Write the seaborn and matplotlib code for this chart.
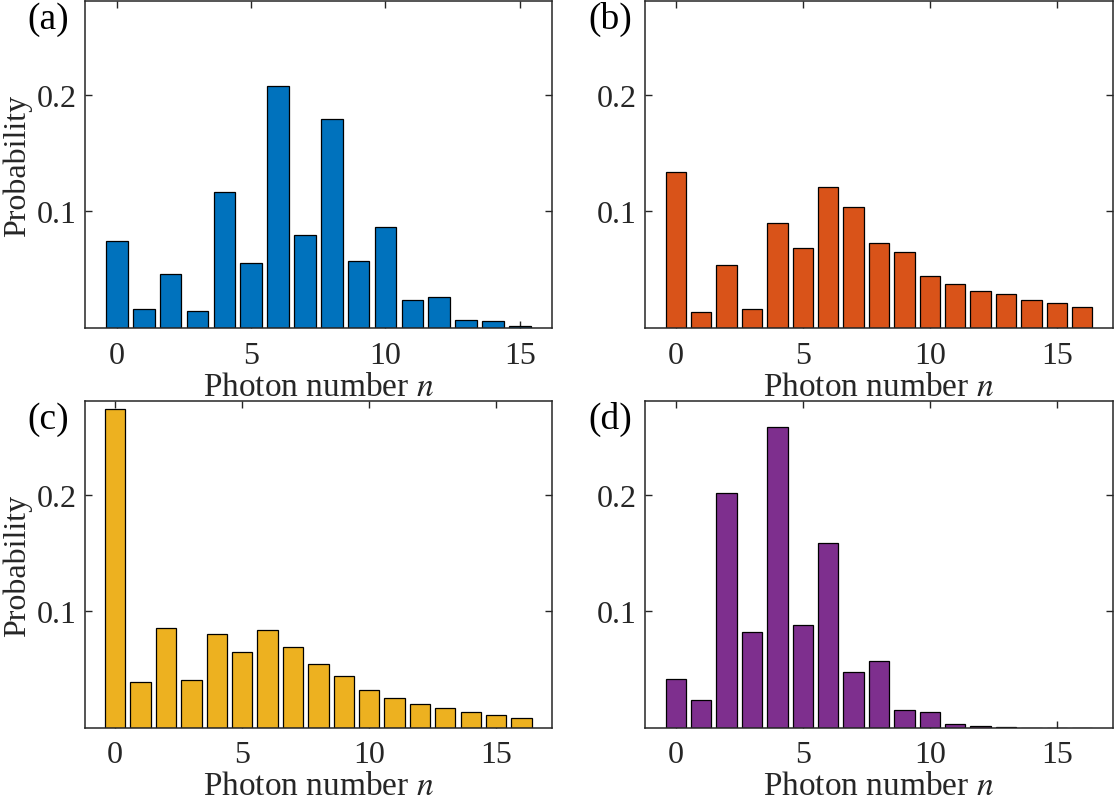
import numpy as np
import pandas as pd
import seaborn as sns
import matplotlib.pyplot as plt

# Photon number distributions
n_a = list(range(16))
p_a = [0.0745, 0.0165, 0.0465, 0.0148, 0.117, 0.0556, 0.2071, 0.0799,
       0.1789, 0.0573, 0.0867, 0.0243, 0.0265, 0.0068, 0.006, 0.0017]

n_b = list(range(17))
p_b = [0.134, 0.0137, 0.0539, 0.0168, 0.0899, 0.0685, 0.1207, 0.1036,
       0.0728, 0.0656, 0.0445, 0.0377, 0.0317, 0.0291, 0.0243, 0.0214, 0.018]

n_c = list(range(17))
p_c = [0.273, 0.0397, 0.0857, 0.0409, 0.0809, 0.0654, 0.0837, 0.0694,
       0.0549, 0.0449, 0.0326, 0.026, 0.0209, 0.0174, 0.014, 0.0114, 0.0089]

n_d = list(range(17))
p_d = [0.042, 0.024, 0.201, 0.0826, 0.258, 0.0886, 0.1589, 0.0477,
       0.0577, 0.0157, 0.014, 0.0034, 0.002, 0.0005, 0.0003, 0.0001, 0.00005]

panels = [("(a)", n_a, p_a, "#0072BD"),
          ("(b)", n_b, p_b, "#D95319"),
          ("(c)", n_c, p_c, "#EDB120"),
          ("(d)", n_d, p_d, "#7E2F8E")]

sns.set_theme(style="ticks")
plt.rcParams["font.family"] = ["Liberation Serif", "DejaVu Serif"]
plt.rcParams["mathtext.fontset"] = "stix"

fig = plt.figure(figsize=(11.17, 8.04), dpi=100)

# axes boxes in figure pixels: left, top, right, bottom
boxes = [(84.7, 2, 552, 329.3), (645.3, 2, 1112.7, 329.3),
         (84.7, 402.3, 552, 729), (645.3, 402.3, 1112.7, 729)]
xmax = [16.2, 17.2, 17.2, 17.2]
W, H = 1117, 804

for i, ((label, n, p, color), (l, t, r, b)) in enumerate(zip(panels, boxes)):
    ax = fig.add_axes([l / W, 1 - b / H, (r - l) / W, (b - t) / H])
    df = pd.DataFrame({"n": n, "p": p})
    sns.barplot(data=df, x="n", y="p", native_scale=True, color=color,
                saturation=1, edgecolor="black", linewidth=0.9, width=0.8, ax=ax)
    ax.set_xlim(-1.2, xmax[i])
    ax.set_ylim(0, 0.28)
    ax.set_xticks([0, 5, 10, 15])
    ax.set_xticklabels(["0", "5", "10", "15"])
    ax.set_yticks([0.1, 0.2])
    ax.set_yticklabels(["0.1", "0.2"])
    ax.tick_params(direction="in", length=5, width=1, top=True, right=True,
                   labelsize=23, colors="#262626")
    ax.tick_params(axis="x", pad=9)
    ax.tick_params(axis="y", pad=6)
    for s in ax.spines.values():
        s.set_linewidth(1.1)
        s.set_color("#262626")
    ax.set_xlabel("Photon number $n$", fontsize=24, color="#262626", labelpad=1)
    if i % 2 == 0:
        ax.set_ylabel("Probability", fontsize=23, color="#262626", labelpad=3)
    else:
        ax.set_ylabel("")
    fig.text((l - 57) / W, 1 - t / H, label, fontsize=27,
             ha="left", va="top", color="black")

fig.savefig("out.png", dpi=100)
